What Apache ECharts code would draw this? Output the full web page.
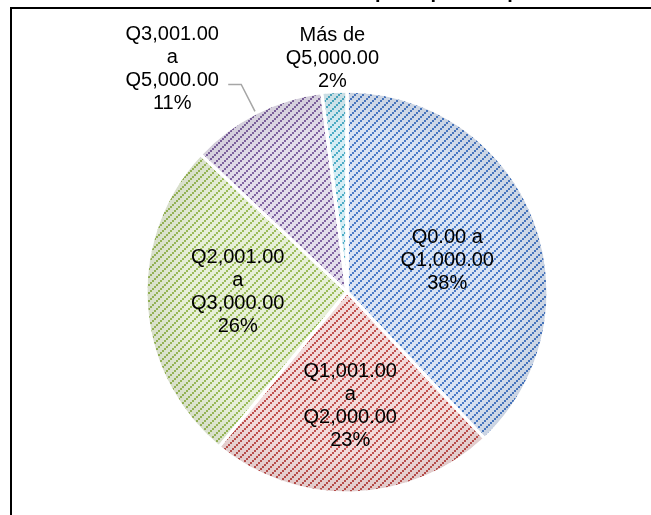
<!DOCTYPE html>
<html>
<head>
<meta charset="utf-8">
<script src="https://cdn.jsdelivr.net/npm/echarts@6/dist/echarts.min.js"></script>
<style>
  html, body { margin: 0; padding: 0; background: #fff; }
  #chart { width: 651px; height: 515px; }
</style>
</head>
<body>
<div id="chart"></div>
<script>
// Monthly spending brackets and their share of households (%)
const categories = [
  'Q0.00 a\nQ1,000.00',
  'Q1,001.00\na\nQ2,000.00',
  'Q2,001.00\na\nQ3,000.00',
  'Q3,001.00\na\nQ5,000.00',
  'Más de\nQ5,000.00'
];
const shares = [38, 23, 26, 11, 2];
const titleText = 'Gráfica 5. Gasto mensual en transporte público por familia';

// Hatch colours: stripe colour and background tint per slice
const stripeColors = ['#4A7BC7', '#C0504D', '#9BBB59', '#8064A2', '#4BACC6'];
const tintColors = ['#D9E3F3', '#F2DADA', '#E7EFD8', '#E3DDEB', '#D6EDF4'];
// Which slices carry their label inside
const labelInside = [true, true, true, false, false];
// Small nudges for the label blocks [dx, dy]
const labelNudge = [[4, 7], [0, 11], [-6, -7], [0, 0], [0, 2]];

// Upward diagonal hatch tile (2px steps, 8px period)
function hatchTile(fg, bg) {
  const c = document.createElement('canvas');
  c.width = 8; c.height = 8;
  const g = c.getContext('2d');
  g.fillStyle = bg;
  g.fillRect(0, 0, 8, 8);
  g.fillStyle = fg;
  for (let y = 0; y < 8; y += 2) {
    for (let x = 0; x < 8; x += 2) {
      if (((x >> 1) + (y >> 1)) % 4 === 0) g.fillRect(x, y, 2, 2);
    }
  }
  return c;
}

const font = 'Liberation Sans, Arial, sans-serif';
const pieCenter = [347, 292];
const pieRadius = 201;

const pieData = categories.map((name, i) => {
  const item = {
    name: name,
    value: shares[i],
    itemStyle: { color: { image: hatchTile(stripeColors[i], tintColors[i]), repeat: 'repeat' } }
  };
  if (labelInside[i]) {
    item.label = { position: 'inside' };
    item.labelLine = { show: false };
  } else if (i === 3) {
    item.label = {
      position: 'outside',
      formatter: p => p.name.split('\n').concat([p.value + '%']).map(s => '{w|' + s + '}').join('\n'),
      padding: [0, 0, 30, 0],
      distanceToLabelLine: 5,
      rich: { w: { width: 102, align: 'center', fontSize: 20, lineHeight: 23, fontFamily: font, color: '#000' } }
    };
    item.labelLine = { show: true, length: 32, length2: 13, lineStyle: { color: '#A6A6A6', width: 1.5 } };
  } else {
    item.label = { position: 'outside', distanceToLabelLine: 2 };
    item.labelLine = { show: false, length: 0, length2: 0 };
  }
  return item;
});

// Soft rim shading laid over the hatched slices
const shadeData = shares.map((v, i) => ({ name: categories[i], value: v }));

const chart = echarts.init(document.getElementById('chart'), null, { renderer: 'canvas' });
chart.setOption({
  backgroundColor: '#fff',
  animation: false,
  graphic: [
    {
      type: 'rect',
      shape: { x: 11, y: 8, width: 700, height: 600 },
      style: { fill: 'none', stroke: '#000', lineWidth: 2 },
      silent: true
    },
    {
      type: 'text',
      x: 330, y: 2,
      style: {
        text: titleText,
        font: 'bold 20px ' + font,
        fill: '#000',
        textAlign: 'center',
        textVerticalAlign: 'bottom'
      },
      silent: true
    }
  ],
  series: [
    {
      type: 'pie',
      center: pieCenter,
      radius: [0, pieRadius],
      startAngle: 90,
      clockwise: true,
      avoidLabelOverlap: false,
      itemStyle: { borderColor: '#fff', borderWidth: 3 },
      label: {
        color: '#000',
        fontFamily: font,
        fontSize: 20,
        lineHeight: 23,
        formatter: p => p.name + '\n' + p.value + '%'
      },
      labelLayout: p => {
        const n = labelNudge[p.dataIndex];
        const out = { dx: n[0], dy: n[1] };
        if (p.dataIndex === 4) { out.align = 'center'; out.verticalAlign = 'bottom'; }
        return p.dataIndex === 3 ? {} : out;
      },
      emphasis: { disabled: true },
      z: 2,
      data: pieData
    },
    {
      type: 'pie',
      center: pieCenter,
      radius: [0, pieRadius],
      startAngle: 90,
      clockwise: true,
      silent: true,
      z: 3,
      label: { show: false },
      labelLine: { show: false },
      itemStyle: {
        borderColor: '#fff',
        borderWidth: 3,
        color: {
          type: 'radial', x: pieCenter[0], y: pieCenter[1], r: pieRadius, global: true,
          colorStops: [
            { offset: 0, color: 'rgba(0,0,0,0)' },
            { offset: 0.8, color: 'rgba(0,0,0,0)' },
            { offset: 1, color: 'rgba(0,0,0,0.07)' }
          ]
        }
      },
      emphasis: { disabled: true },
      data: shadeData
    }
  ]
});
</script>
</body>
</html>
